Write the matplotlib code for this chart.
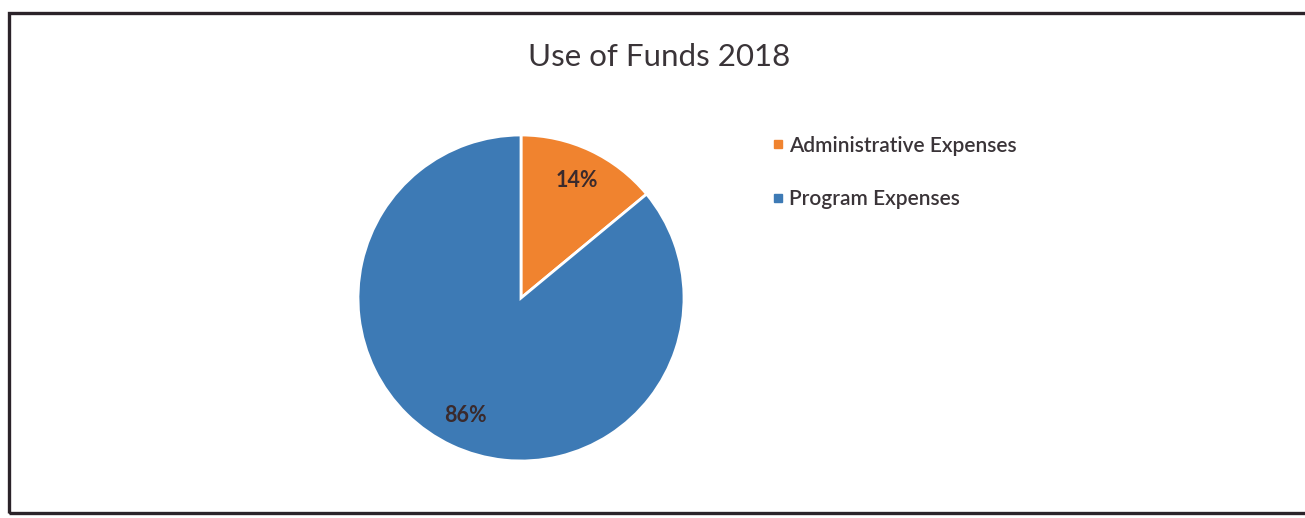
import matplotlib.pyplot as plt
from matplotlib.lines import Line2D
from matplotlib.patches import Rectangle

plt.rcParams['font.family'] = ['Lato', 'DejaVu Sans']

labels = ['Administrative Expenses', 'Program Expenses']
shares = [14, 86]
colors = ['#F0832F', '#3D7AB5']

W, H = 1305, 518
fig = plt.figure(figsize=(W / 100, H / 100), dpi=100)
fig.patch.set_facecolor('white')

# outer frame of the chart box
fig.patches.append(Rectangle((9 / W, 5 / H), 1.2, 1 - 18 / H, transform=fig.transFigure,
                             fill=False, edgecolor='#2b2329', linewidth=2.4))

# pie placed in pixel terms: centre (521, 298), radius 163
cx, cy, r = 521, 298, 163
ax = fig.add_axes([(cx - r) / W, (H - cy - r) / H, 2 * r / W, 2 * r / H])
wedges, _, autotexts = ax.pie(shares, colors=colors, startangle=90, counterclock=False,
                              autopct='%1.0f%%', pctdistance=0.8,
                              wedgeprops=dict(edgecolor='white', linewidth=2))
for t in autotexts:
    t.set_fontsize(15.5)
    t.set_fontweight('bold')
    t.set_color('#3a2a2c')
ax.set_xlim(-1, 1)
ax.set_ylim(-1, 1)

fig.text(659 / W, 1 - 57 / H, 'Use of Funds 2018', ha='center', va='center',
         fontsize=22.5, color='#3a3438')

handles = [Line2D([], [], marker='s', linestyle='', markersize=6, color=c) for c in colors]
leg = fig.legend(handles, labels, loc='upper left', bbox_to_anchor=(747 / W, 1 - 117 / H),
                 frameon=False, fontsize=15, handletextpad=-0.1, labelspacing=1.6,
                 labelcolor='#3a3438', handlelength=1.2)
for t in leg.get_texts():
    t.set_fontweight('semibold')

fig.savefig('out.png', dpi=100)
